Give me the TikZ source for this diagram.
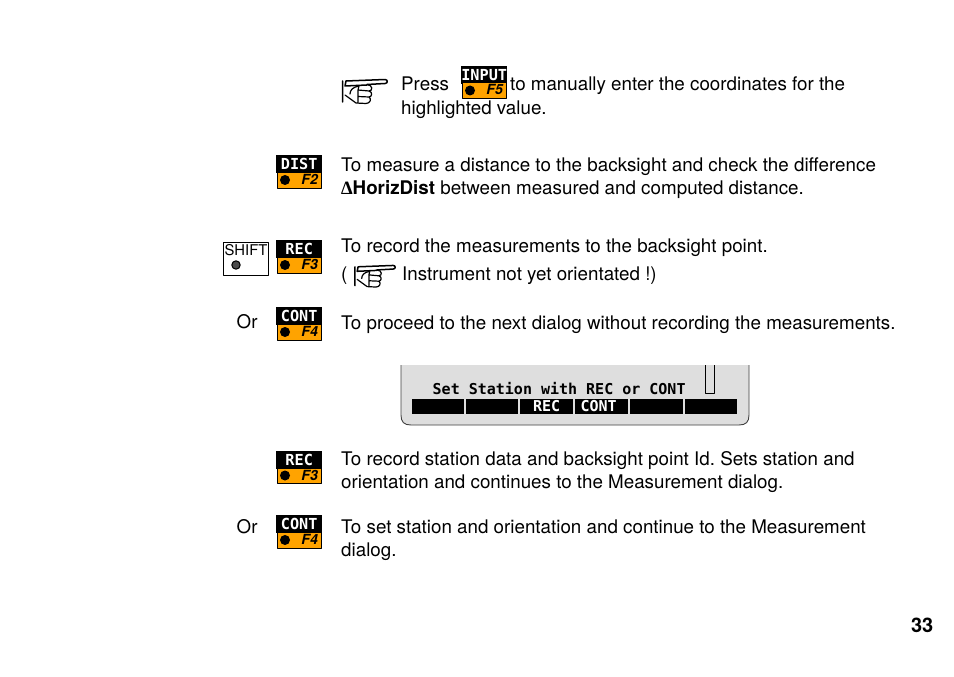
\documentclass[tikz,border=0pt]{standalone}
\usepackage{fontspec}
\setmainfont{TeX Gyre Heros}
\newfontfamily\keyfont{DejaVu Sans Mono}[BoldFont={DejaVu Sans Mono Bold}]
\newfontfamily\deltafont{Liberation Serif}
\definecolor{keyorange}{HTML}{FFA300}
\definecolor{lcdgray}{HTML}{DEDEDE}
\tikzset{
    txt/.style={anchor=base west, inner sep=0pt, font=\fontsize{18.78}{22}\selectfont\frenchspacing},
    keytop/.style={anchor=north west, inner sep=0pt, fill=black, text=white, minimum width=46pt, minimum height=18pt, font=\fontsize{15.2}{15}\selectfont\keyfont\bfseries},
    keybot/.style={anchor=north west, inner sep=0pt, fill=keyorange, draw=black, line width=0.9pt, minimum width=44.5pt, minimum height=15.5pt},
    keyname/.style={anchor=base east, inner sep=0pt, font=\fontsize{14}{14}\selectfont\bfseries\itshape},
    lcdkey/.style={anchor=north west, inner sep=0pt, fill=black, text=white, minimum height=15pt, font=\fontsize{15}{15}\selectfont\keyfont\bfseries},
    handsign/.pic={
        \draw[line width=1.5pt, line cap=round]
            (0.5,2)--(0.5,23)
            (4,2)--(43,0.5) .. controls (46,0.5) and (46,4.5) .. (43,4.5)--(25,5.5)
            (4,2)--(3,7)--(25,6);
        \draw[line width=1.2pt, line cap=round]
            (25,5.5) .. controls (31,6) and (31,12) .. (27,12)--(16,11)
            (27,12) .. controls (31,13) and (30,18) .. (27,18)--(16,17.5)
            (27,18) .. controls (30,20) and (28,24.5) .. (24,24.5)--(14,24)--(3,16)
            (17,7) .. controls (11,8) and (8,11) .. (8,15)
            (17,7)--(16,11)--(16,17.5)--(16,23);
    }
}
\newcommand{\softkey}[5]{% name, x, y, label, F key
    \node[keytop] (#1top) at (#2,#3) {#4};
    \node[keybot] (#1bot) at (#2+0.5,#3+17) {};
    \fill[black] (#2+9,#3+25) circle (5pt);
    \node[keyname] (#1f) at (#2+42,#3+29.5) {#5};
}
\begin{document}
\begin{tikzpicture}[x=1pt, y=-1pt, line join=round]
    \useasboundingbox (0,0) rectangle (954,677);
    % first note
    \pic at (342,79) {handsign};
    \node[txt] (press) at (401,91) {Press};
    \softkey{input}{461}{65.5}{INPUT}{F5}
    \node[txt] (pressa) at (510,91) {to manually enter the coordinates for the};
    \node[txt] (pressb) at (401,114) {highlighted value.};
    % dist
    \softkey{dist}{276}{155}{DIST}{F2}
    \node[txt] (dista) at (341,171) {To measure a distance to the backsight and check the difference};
    \node[txt] (distb) at (341,194) {{\deltafont\bfseries ∆}\textbf{HorizDist} between measured and computed distance.};
    % shift + rec
    \node[draw=black, line width=0.8pt, fill=white, minimum width=45pt, minimum height=33pt, inner sep=0pt] (shift) at (246,259) {};
    \node[inner sep=0pt, font=\fontsize{14.8}{15}\selectfont] (shiftname) at (246,250) {SHIFT};
    \draw[black, line width=1pt, fill=black!70] (236,265) circle (4.2pt);
    \softkey{rec}{276}{240}{REC}{F3}
    \node[txt] (reca) at (341,252) {To record the measurements to the backsight point.};
    \node[txt] (recb) at (341,280) {(};
    \pic[scale=0.9] at (354.5,265) {handsign};
    \node[txt] (recc) at (402,280) {Instrument not yet orientated !)};
    % or cont
    \node[txt] (ora) at (236.5,328) {Or};
    \softkey{cont}{276}{307}{CONT}{F4}
    \node[txt] (conta) at (341,329) {To proceed to the next dialog without recording the measurements.};
    % display
    \fill[lcdgray] (401,365)--(401,415) .. controls (401,422) and (404,425) .. (411,425)--(739,425) .. controls (746,425) and (749,422) .. (749,415)--(749,365)--cycle;
    \draw[line width=0.9pt, black!75] (401,365)--(401,415) .. controls (401,422) and (404,425) .. (411,425)--(739,425) .. controls (746,425) and (749,422) .. (749,415)--(749,365);
    \draw[line width=0.8pt, fill=lcdgray] (705,365)--(705,393)--(714,393)--(714,365);
    \node[anchor=base west, inner sep=0pt, font=\fontsize{15}{15}\selectfont\keyfont\bfseries] (lcdtext) at (432.5,394) {Set Station with REC or CONT};
    \node[lcdkey, minimum width=52pt] (lcda) at (412,399) {};
    \node[lcdkey, minimum width=52pt] (lcdb) at (466,399) {};
    \node[lcdkey, minimum width=53pt] (lcdc) at (520,399) {\raisebox{1pt}{REC}};
    \node[lcdkey, minimum width=53pt] (lcdd) at (575,399) {\raisebox{1pt}{CONT\hspace*{6pt}}};
    \node[lcdkey, minimum width=53pt] (lcde) at (630,399) {};
    \node[lcdkey, minimum width=52pt] (lcdf) at (685,399) {};
    % rec
    \softkey{recb}{276}{450.5}{REC}{F3}
    \node[txt] (recd) at (341,465) {To record station data and backsight point Id. Sets station and};
    \node[txt] (rece) at (341,488) {orientation and continues to the Measurement dialog.};
    % cont
    \node[txt] (orb) at (236.5,533) {Or};
    \softkey{contb}{276}{515}{CONT}{F4}
    \node[txt] (contc) at (341,533) {To set station and orientation and continue to the Measurement};
    \node[txt] (contd) at (341,556) {dialog.};
    \node[anchor=base east, inner sep=0pt, font=\fontsize{20}{20}\selectfont\bfseries] (pagenr) at (933.5,632) {33};
\end{tikzpicture}
\end{document}
